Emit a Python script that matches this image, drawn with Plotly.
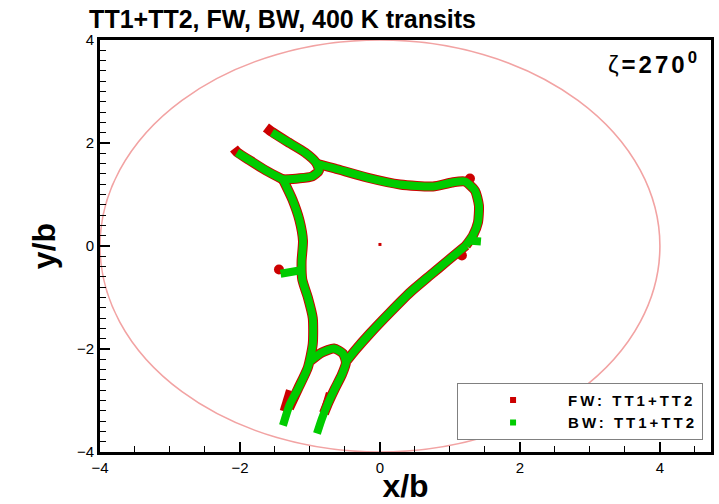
import plotly.graph_objects as go

# ---- data (x/b, y/b) ----
# BW: TT1+TT2 transit band, traced as connected branches
bw_upper_prong_x = [-1.543, -1.329, -1.071, -0.914, -0.871, -0.971, -1.171, -1.386]
bw_upper_prong_y = [2.204, 2.029, 1.816, 1.621, 1.466, 1.350, 1.311, 1.291]
bw_lower_prong_x = [-2.043, -1.857, -1.629, -1.386]
bw_lower_prong_y = [1.816, 1.660, 1.466, 1.291]
bw_top_edge_x = [-0.914, -0.643, -0.186, 0.286, 0.757, 1.029, 1.214, 1.357, 1.414, 1.400, 1.329, 1.229]
bw_top_edge_y = [1.602, 1.505, 1.330, 1.194, 1.155, 1.233, 1.252, 1.078, 0.786, 0.456, 0.204, 0.010]
bw_diagonal_x = [1.229, 0.971, 0.714, 0.429, 0.143, -0.143, -0.357, -0.471]
bw_diagonal_y = [0.010, -0.282, -0.573, -0.903, -1.291, -1.699, -2.029, -2.223]
bw_left_branch_x = [-1.386, -1.250, -1.150, -1.100, -1.120, -1.110, -1.030, -0.960, -0.960, -1.030, -1.170, -1.290, -1.386]
bw_left_branch_y = [1.291, 0.900, 0.500, 0.100, -0.300, -0.650, -1.000, -1.400, -1.900, -2.360, -2.770, -3.080, -3.485]
bw_arch_x = [-0.986, -0.829, -0.657, -0.529, -0.486, -0.543, -0.643, -0.743, -0.829, -0.900]
bw_arch_y = [-2.223, -2.068, -1.990, -2.087, -2.262, -2.495, -2.767, -3.058, -3.350, -3.641]
bw_spur_right_x = [1.257, 1.443]
bw_spur_right_y = [0.107, 0.087]
bw_spur_left_x = [-1.420, -1.130]
bw_spur_left_y = [-0.540, -0.470]

# FW: TT1+TT2 transit band
fw_upper_prong_x = [-1.629, -1.543, -1.329, -1.071, -0.914, -0.871, -0.971, -1.171, -1.386]
fw_upper_prong_y = [2.301, 2.214, 2.029, 1.816, 1.621, 1.466, 1.350, 1.311, 1.291]
fw_lower_prong_x = [-2.086, -2.043, -1.857, -1.629, -1.386]
fw_lower_prong_y = [1.893, 1.826, 1.660, 1.466, 1.291]
fw_top_edge_x = [-0.914, -0.643, -0.186, 0.286, 0.757, 1.029, 1.214, 1.357, 1.414, 1.400, 1.329, 1.229]
fw_top_edge_y = [1.602, 1.505, 1.330, 1.194, 1.155, 1.233, 1.252, 1.078, 0.786, 0.456, 0.204, 0.010]
fw_diagonal_x = [1.229, 0.971, 0.714, 0.429, 0.143, -0.143, -0.357, -0.471]
fw_diagonal_y = [0.010, -0.282, -0.573, -0.903, -1.291, -1.699, -2.029, -2.223]
fw_left_branch_x = [-1.386, -1.250, -1.150, -1.100, -1.120, -1.110, -1.030, -0.960, -0.960, -1.030, -1.170, -1.300]
fw_left_branch_y = [1.291, 0.900, 0.500, 0.100, -0.300, -0.650, -1.000, -1.400, -1.900, -2.360, -2.770, -3.150]
fw_arch_x = [-0.986, -0.829, -0.657, -0.529, -0.486, -0.543, -0.643, -0.743, -0.800]
fw_arch_y = [-2.223, -2.068, -1.990, -2.087, -2.262, -2.495, -2.767, -3.058, -3.250]
fw_smudge_left_x = [-1.300, -1.390]
fw_smudge_left_y = [-2.800, -3.200]
fw_smudge_right_x = [-0.730, -0.810]
fw_smudge_right_y = [-2.850, -3.220]
fw_spot_x = [1.286, 1.171, -1.443]
fw_spot_y = [1.311, -0.184, -0.456]
fw_origin_x = [0.0]
fw_origin_y = [0.03]

# boundary circle radius (in b)
boundary_radius = 4

x_range = [-4, 4.73]
y_range = [-4, 4]

RED = "#cc0000"
GREEN = "#00cc00"
FONT = "Liberation Sans, Arial, sans-serif"


def join(*segs):
    out = []
    for s in segs:
        out += list(s) + [None]
    return out[:-1]


fw_x = join(fw_upper_prong_x, fw_lower_prong_x, fw_top_edge_x, fw_diagonal_x, fw_left_branch_x, fw_arch_x)
fw_y = join(fw_upper_prong_y, fw_lower_prong_y, fw_top_edge_y, fw_diagonal_y, fw_left_branch_y, fw_arch_y)
fw_sx = join(fw_smudge_left_x, fw_smudge_right_x)
fw_sy = join(fw_smudge_left_y, fw_smudge_right_y)
bw_x = join(bw_upper_prong_x, bw_lower_prong_x, bw_top_edge_x, bw_diagonal_x, bw_left_branch_x, bw_arch_x,
            bw_spur_right_x, bw_spur_left_x)
bw_y = join(bw_upper_prong_y, bw_lower_prong_y, bw_top_edge_y, bw_diagonal_y, bw_left_branch_y, bw_arch_y,
            bw_spur_right_y, bw_spur_left_y)

fig = go.Figure()

# FW band (drawn underneath)
fig.add_trace(go.Scatter(x=fw_x, y=fw_y, mode="lines", showlegend=False, hoverinfo="skip",
                         line=dict(color=RED, width=10, shape="spline", smoothing=0.6)))
fig.add_trace(go.Scatter(x=fw_sx, y=fw_sy, mode="lines", showlegend=False, hoverinfo="skip",
                         line=dict(color=RED, width=6)))
fig.add_trace(go.Scatter(x=fw_spot_x, y=fw_spot_y, mode="markers", showlegend=False, hoverinfo="skip",
                         marker=dict(color=RED, size=10, symbol="circle", line=dict(width=0))))
fig.add_trace(go.Scatter(x=fw_origin_x, y=fw_origin_y, mode="markers", showlegend=False, hoverinfo="skip",
                         marker=dict(color=RED, size=3, symbol="square", line=dict(width=0))))
# BW band on top
fig.add_trace(go.Scatter(x=bw_x, y=bw_y, mode="lines", showlegend=False, hoverinfo="skip",
                         line=dict(color=GREEN, width=8, shape="spline", smoothing=0.6)))

# legend entries
LEG = '<span style="letter-spacing:3px">{}</span>'
fig.add_trace(go.Scatter(x=[None], y=[None], mode="markers", name=LEG.format("FW: TT1+TT2"),
                         marker=dict(color=RED, size=6, symbol="square")))
fig.add_trace(go.Scatter(x=[None], y=[None], mode="markers", name=LEG.format("BW: TT1+TT2"),
                         marker=dict(color=GREEN, size=6, symbol="square")))

# boundary circle
fig.add_shape(type="circle", xref="x", yref="y",
              x0=-boundary_radius, x1=boundary_radius, y0=-boundary_radius, y1=boundary_radius,
              line=dict(color="#f2a3a3", width=1.6), layer="below")

axis_common = dict(
    showgrid=False, zeroline=False, showline=True, linecolor="black", linewidth=3, mirror=True,
    ticks="inside", tickcolor="black", ticklen=10, tickwidth=2, automargin=False,
    tickfont=dict(family=FONT, size=15, color="black"),
)

fig.update_xaxes(range=x_range, tick0=-4, dtick=2,
                 minor=dict(dtick=0.5, tick0=-4, ticks="inside", ticklen=6, tickwidth=1, tickcolor="black"),
                 title=dict(text="<b>x/b</b>", font=dict(family=FONT, size=32, color="black"), standoff=7),
                 **axis_common)
fig.update_yaxes(range=y_range, tick0=-4, dtick=2,
                 minor=dict(dtick=0.2, tick0=-4, ticks="inside", ticklen=6, tickwidth=1, tickcolor="black"),
                 title=dict(text="<b>y/b</b>", font=dict(family=FONT, size=32, color="black"), standoff=12),
                 **axis_common)

fig.add_annotation(xref="paper", yref="paper", x=0.986, y=0.945, xanchor="right", yanchor="middle",
                   text='<span style="letter-spacing:3px">ζ<b>=270<sup>0</sup></b></span>', showarrow=False,
                   font=dict(family=FONT, size=24, color="black"))

fig.update_layout(
    width=719, height=504,
    margin=dict(l=100, r=8, t=40, b=52, autoexpand=False),
    paper_bgcolor="white", plot_bgcolor="white",
    title=dict(text="<b>TT1+TT2, FW, BW, 400 K transits</b>", x=0.393, xanchor="center",
               y=0.962, yanchor="middle", font=dict(family=FONT, size=25, color="black")),
    legend=dict(x=0.987, y=0.03, xanchor="right", yanchor="bottom",
                bgcolor="white", bordercolor="#808080", borderwidth=1,
                font=dict(family=FONT, size=15, color="black", weight="bold"),
                itemwidth=100, tracegroupgap=0),
    showlegend=True,
)

fig.write_html("out.html")
